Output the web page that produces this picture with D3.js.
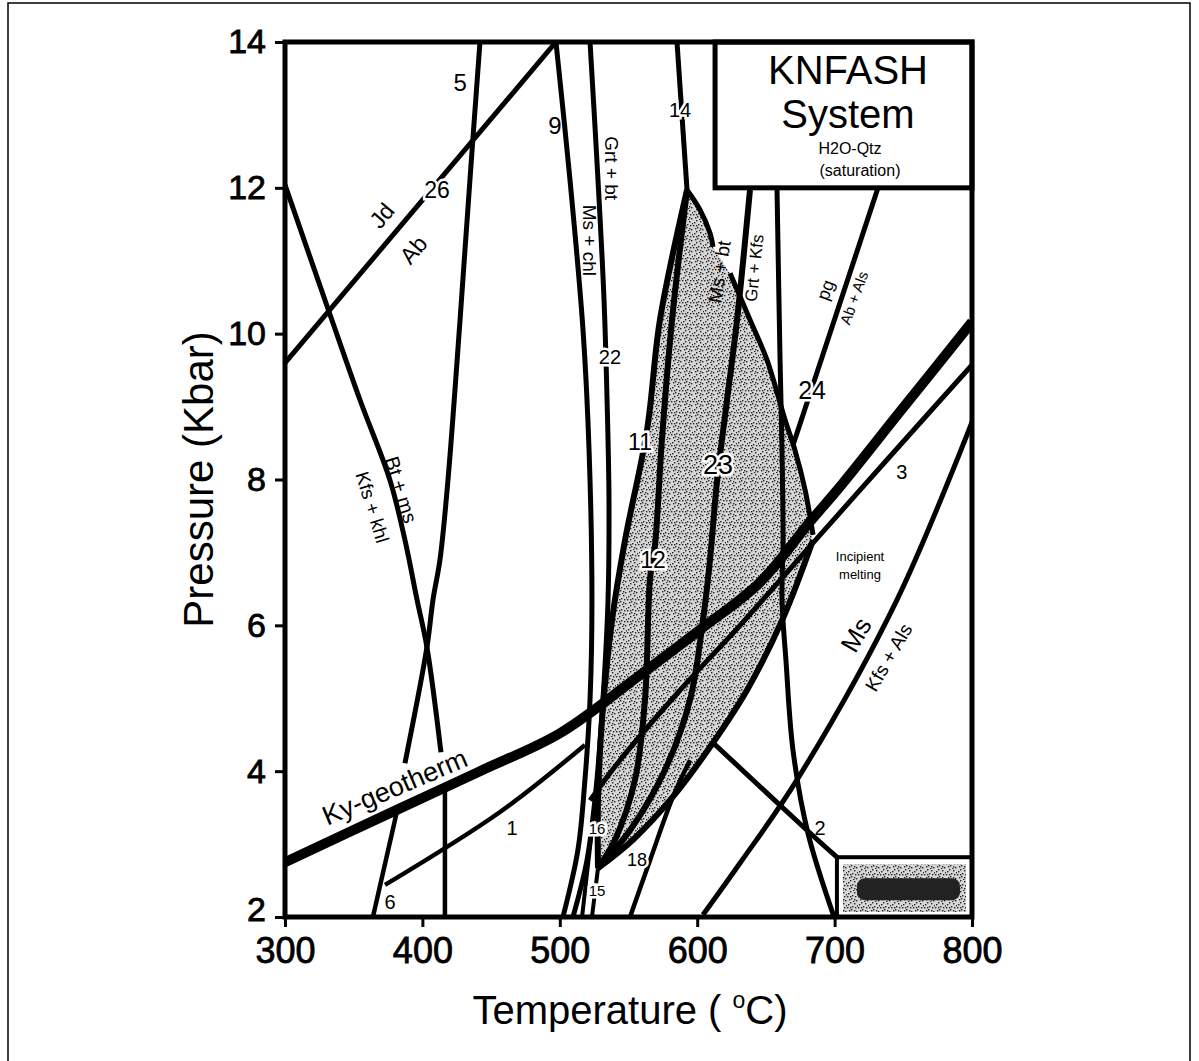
<!DOCTYPE html>
<html>
<head>
<meta charset="utf-8">
<script src="https://cdn.jsdelivr.net/npm/d3@7"></script>
<style>
  body { margin: 0; background: #fff; }
  svg text { font-family: "Liberation Sans", Arial, sans-serif; fill: #000; }
</style>
</head>
<body>
<script>
// axis ticks
const tempTicks = [300, 400, 500, 600, 700, 800];
const presTicks = [2, 4, 6, 8, 10, 12, 14];

// reaction curves, each point is [T (°C), P (kbar)]
const jdAb      = [[300, 9.6], [497.2, 14]];
const line5     = [[441.9, 14], [434.6, 12.11], [427.4, 10.19], [418.6, 7.99], [412.8, 6.9], [407.7, 6.35], [403.3, 5.70], [387.3, 4.11]];
const line6     = [[382.2, 3.51], [364, 2.0]];
const btMs      = [[300, 12.04], [332.8, 10.26], [354.6, 9.09], [376.4, 7.99], [387.3, 7.17], [396.1, 6.35], [403.3, 5.70], [413.5, 4.26]];
const btMsLow   = [[416.4, 3.78], [416.4, 2.0]];
const line1     = [[372.8, 2.44], [456.5, 3.44], [518.3, 4.36]];
const kyGeo     = [[300, 2.75], [383.7, 3.49], [441.9, 4.0], [500.1, 4.52], [558.4, 5.32], [602, 5.94], [645.7, 6.59], [682.1, 7.42], [703.9, 7.90], [747.6, 8.93], [800, 10.16]];
const line3     = [[800, 9.57], [747.6, 8.47], [684.3, 7.13], [631.2, 6.0], [587.5, 5.11], [543.8, 4.15], [522, 3.60]];
const msKfsAls  = [[800.7, 8.82], [745.4, 6.35], [672.6, 3.88], [631.2, 2.74], [604.2, 2.03]];
const line2     = [[658.1, 11.97], [660.3, 9.64], [661.7, 8.40], [662.5, 7.17], [661.7, 6.35], [664.6, 5.52], [669.7, 4.29], [680.6, 3.15], [699.6, 2.0]];
const lineBox   = [[611.5, 4.39], [679.9, 3.19], [701.7, 2.82]];
const line24    = [[731.6, 12.0], [669.7, 8.47]];
const msBtUp    = [[592.6, 11.97], [602, 11.70], [609.3, 11.38], [611.5, 11.19]];
const msBtLow   = [[623.9, 10.83], [638.4, 10.19], [650.8, 9.64], [663.9, 8.82], [671.2, 8.40], [678.5, 7.86], [684.3, 7.24]];
const line14    = [[585.3, 14], [592.6, 11.97]];
const line9     = [[497.2, 14], [507.4, 12.11], [516.9, 10.05], [521.3, 8.40], [523.4, 6.35], [522.0, 4.98], [518.3, 3.88], [513.2, 2.92], [502.3, 2.0]];
const line22    = [[522.0, 14], [527.8, 12.11], [532.2, 10.46], [534.4, 9.09], [535.8, 7.72], [535.1, 6.35], [531.4, 4.98], [526.3, 3.74], [519.8, 2.78], [509.6, 2.0]];
const line11    = [[592.6, 11.97], [572.9, 10.19], [563.5, 8.68], [547.5, 7.17], [538.0, 6.07], [530.7, 4.70], [527.8, 3.60], [527.8, 2.67]];
const line12    = [[592.6, 11.97], [581.7, 10.19], [574.3, 8.54], [569.3, 7.10], [565.7, 6.65], [562.0, 4.98], [554.7, 3.88], [540.2, 3.06], [527.8, 2.67]];
const line23    = [[638.4, 11.97], [629.0, 10.19], [621.7, 9.09], [614.4, 7.97], [609.3, 6.90], [604.2, 6.07], [594.8, 4.98], [576.6, 4.02], [551.1, 3.19], [527.8, 2.67]];
const line18    = [[684.3, 7.17], [662.5, 6.10], [636.2, 5.11], [611.5, 4.39], [582.4, 3.65], [553.3, 3.06], [527.8, 2.67]];
const line15    = [[527.8, 2.67], [523.4, 2.0]];
const line16    = [[529.3, 4.15], [523.4, 3.19], [516.2, 2.0]];
const lineLow   = [[551.1, 2.0], [565.7, 2.78], [582.4, 3.65], [594.8, 4.15]];

const curves = [
  { pts: jdAb, w: 5 }, { pts: line5, w: 5 }, { pts: line6, w: 4.5 },
  { pts: btMs, w: 5 }, { pts: btMsLow, w: 4.5 }, { pts: line1, w: 4.5 },
  { pts: line3, w: 5 }, { pts: msKfsAls, w: 5 }, { pts: line2, w: 5 },
  { pts: lineBox, w: 5 }, { pts: line24, w: 5 }, { pts: msBtUp, w: 5 },
  { pts: msBtLow, w: 5 }, { pts: line14, w: 5 }, { pts: line9, w: 5 },
  { pts: line22, w: 5 }, { pts: line11, w: 6 }, { pts: line12, w: 6 },
  { pts: line23, w: 6 }, { pts: line18, w: 6 }, { pts: line15, w: 4 },
  { pts: line16, w: 4 }, { pts: lineLow, w: 4.5 }, { pts: kyGeo, w: 10 }
];

// annotations [text, T, P, rotation, font size, halo]
const notes = [
  ["5", 427.4, 13.45, 0, 24, false],
  ["9", 496.5, 12.86, 0, 24, false],
  ["14", 587.5, 13.07, 0, 20, true],
  ["26", 410.6, 11.97, 0, 23, true],
  ["Jd", 370.5, 11.62, -50, 23, false],
  ["Ab", 393.5, 11.15, -50, 23, false],
  ["Grt + bt", 537.3, 12.27, 90, 19, false],
  ["Ms + chl", 521.5, 11.28, 90, 19, false],
  ["22", 536.5, 9.68, 0, 20, true],
  ["11", 558.4, 8.51, 0, 23, true],
  ["12", 567.8, 6.90, 0, 23, true],
  ["23", 615.1, 8.2, 0, 27, true],
  ["24", 683.6, 9.23, 0, 25, true],
  ["Ms + bt", 616.2, 10.85, -81, 19, false],
  ["Grt + Kfs", 641.8, 10.9, -84, 17, false],
  ["pg", 693.4, 10.6, -70, 18, false],
  ["Ab + Als", 714, 10.49, -70, 15, false],
  ["3", 749, 8.1, 0, 20, false],
  ["Incipient", 718.5, 6.94, 0, 13, false],
  ["melting", 718.5, 6.70, 0, 13, false],
  ["Ms", 715.6, 5.87, -60, 26, false],
  ["Kfs + Als", 739.4, 5.56, -60, 19, false],
  ["2", 689.4, 3.22, 0, 20, false],
  ["1", 465.2, 3.22, 0, 20, false],
  ["6", 376.4, 2.21, 0, 20, true],
  ["15", 527.1, 2.37, 0, 15, true],
  ["16", 527.1, 3.22, 0, 15, true],
  ["18", 556.2, 2.78, 0, 18, true],
  ["Bt + ms", 384.5, 7.86, 73, 20, false],
  ["Kfs + khl", 363.5, 7.62, 73, 19, false],
  ["Ky-geotherm", 380, 3.78, -23, 27, false]
];

const width = 1199;
const height = 1061;

const svg = d3.select("body")
  .append("svg")
  .attr("width", width)
  .attr("height", height);

const x = d3.scaleLinear().domain([300, 800]).range([285, 972]);
const y = d3.scaleLinear().domain([2, 14]).range([917, 42]);

// outer figure border
svg.append("path")
  .attr("d", `M8,${height} L8,3 L1190,3 L1190,${height}`)
  .attr("fill", "none")
  .attr("stroke", "#000")
  .attr("stroke-width", 1.5);

// stipple texture for the shaded field
const defs = svg.append("defs");
const pat = defs.append("pattern")
  .attr("id", "stipple")
  .attr("patternUnits", "userSpaceOnUse")
  .attr("width", 11)
  .attr("height", 11);
pat.append("rect").attr("width", 11).attr("height", 11).attr("fill", "#d6d6d6");
[[1, 2], [4, 7], [7, 1], [8, 5], [2, 8], [5, 4], [9, 9], [3, 0], [0, 5], [6, 10], [10, 3], [3, 5], [7, 8]].forEach(p => {
  pat.append("rect").attr("x", p[0]).attr("y", p[1]).attr("width", 1.4).attr("height", 1.4).attr("fill", "#222");
});

defs.append("clipPath").attr("id", "plotClip")
  .append("rect")
  .attr("x", x(300)).attr("y", y(14))
  .attr("width", x(800) - x(300)).attr("height", y(2) - y(14));

const plot = svg.append("g").attr("clip-path", "url(#plotClip)");

// shaded field
const field = msBtUp.concat(msBtLow, line18.slice(1), line11.slice().reverse().slice(1));
plot.append("path")
  .attr("d", d3.line().x(d => x(d[0])).y(d => y(d[1])).curve(d3.curveLinearClosed)(field))
  .attr("fill", "url(#stipple)")
  .attr("stroke", "none");

const curveGen = d3.line()
  .x(d => x(d[0]))
  .y(d => y(d[1]))
  .curve(d3.curveCatmullRom.alpha(0.5));

plot.selectAll(".reaction")
  .data(curves)
  .enter()
  .append("path")
  .attr("class", "reaction")
  .attr("d", d => curveGen(d.pts))
  .attr("fill", "none")
  .attr("stroke", "#000")
  .attr("stroke-width", d => d.w)
  .attr("stroke-linecap", "butt")
  .attr("stroke-linejoin", "round");

// title box (KNFASH System)
svg.append("rect")
  .attr("x", x(613)).attr("y", y(14))
  .attr("width", x(800) - x(613)).attr("height", y(12) - y(14))
  .attr("fill", "#fff")
  .attr("stroke", "#000")
  .attr("stroke-width", 5);

svg.append("text").attr("x", 848).attr("y", 84).attr("text-anchor", "middle")
  .attr("font-size", 40).text("KNFASH");
svg.append("text").attr("x", 848).attr("y", 128).attr("text-anchor", "middle")
  .attr("font-size", 40).text("System");
svg.append("text").attr("x", 850).attr("y", 154).attr("text-anchor", "middle")
  .attr("font-size", 16).text("H2O-Qtz");
svg.append("text").attr("x", 860).attr("y", 176).attr("text-anchor", "middle")
  .attr("font-size", 16).text("(saturation)");

// legend box for the shaded field
const lg = { t0: 701.7, t1: 800, p0: 2, p1: 2.82 };
svg.append("rect")
  .attr("x", x(lg.t0)).attr("y", y(lg.p1))
  .attr("width", x(lg.t1) - x(lg.t0)).attr("height", y(lg.p0) - y(lg.p1))
  .attr("fill", "#fff").attr("stroke", "#000").attr("stroke-width", 4);
svg.append("rect")
  .attr("x", x(lg.t0) + 6).attr("y", y(lg.p1) + 7)
  .attr("width", x(lg.t1) - x(lg.t0) - 12).attr("height", y(lg.p0) - y(lg.p1) - 12)
  .attr("fill", "url(#stipple)");
svg.append("rect")
  .attr("x", x(lg.t0) + 20).attr("y", y(lg.p1) + 21)
  .attr("width", x(lg.t1) - x(lg.t0) - 32).attr("height", 22)
  .attr("rx", 8)
  .attr("fill", "#222");

// frame
svg.append("rect")
  .attr("x", x(300)).attr("y", y(14))
  .attr("width", x(800) - x(300)).attr("height", y(2) - y(14))
  .attr("fill", "none")
  .attr("stroke", "#000")
  .attr("stroke-width", 5);

// axes
const xAxis = d3.axisBottom(x).tickValues(tempTicks).tickSize(10).tickPadding(10).tickFormat(d3.format("d"));
const yAxis = d3.axisLeft(y).tickValues(presTicks).tickSize(10).tickPadding(9).tickFormat(d3.format("d"));

const gx = svg.append("g").attr("transform", `translate(0,${y(2)})`).call(xAxis);
const gy = svg.append("g").attr("transform", `translate(${x(300)},0)`).call(yAxis);
[gx, gy].forEach(g => {
  g.select(".domain").remove();
  g.selectAll(".tick line").attr("stroke", "#000").attr("stroke-width", 3);
  g.selectAll(".tick text")
    .attr("font-family", "Liberation Sans, Arial, sans-serif")
    .attr("fill", "#000")
    .attr("stroke", "#000")
    .attr("stroke-width", 0.8);
});
gx.selectAll(".tick text").attr("font-size", 36);
gy.selectAll(".tick text").attr("font-size", 34);
// lift the lowest pressure label a little so it clears the "300"
gy.selectAll(".tick text").filter(d => d === 2).attr("y", -7);

// axis titles
svg.append("text")
  .attr("transform", `translate(213,${(y(2) + y(14)) / 2}) rotate(-90)`)
  .attr("text-anchor", "middle")
  .attr("font-size", 42)
  .text("Pressure (Kbar)");

const tt = svg.append("text")
  .attr("x", 630)
  .attr("y", 1024)
  .attr("text-anchor", "middle")
  .attr("font-size", 40);
tt.append("tspan").text("Temperature ( ");
tt.append("tspan").attr("font-size", 23).attr("dy", -16).text("o");
tt.append("tspan").attr("dy", 16).text("C)");

// annotations
svg.selectAll(".note")
  .data(notes)
  .enter()
  .append("text")
  .attr("class", "note")
  .attr("transform", d => `translate(${x(d[1])},${y(d[2])}) rotate(${d[3]})`)
  .attr("text-anchor", "middle")
  .attr("dominant-baseline", "central")
  .attr("font-size", d => d[4])
  .attr("stroke", d => d[5] ? "#fff" : "none")
  .attr("stroke-width", d => d[5] ? 5 : 0)
  .attr("paint-order", "stroke")
  .text(d => d[0]);
</script>
</body>
</html>
